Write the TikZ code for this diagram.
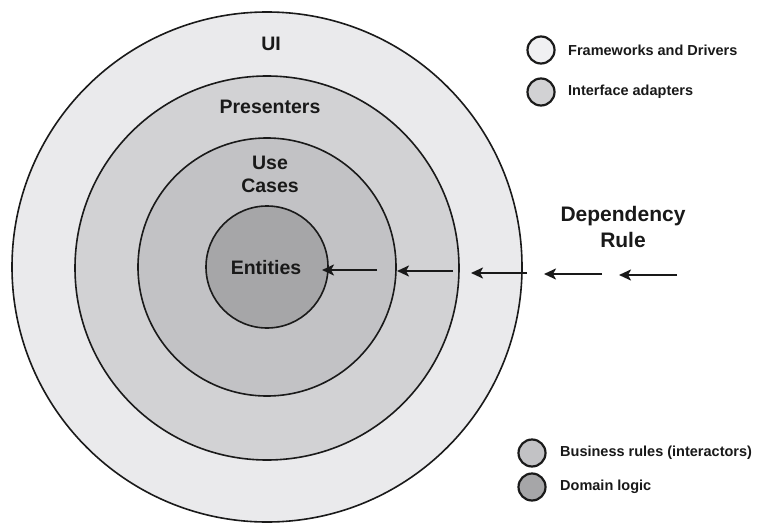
\documentclass[tikz,border=0pt]{standalone}
\usepackage{fontspec}
\setmainfont{Liberation Sans}
\usetikzlibrary{arrows.meta}
\definecolor{cOuter}{HTML}{EAEAEC}
\definecolor{cPres}{HTML}{D2D2D4}
\definecolor{cUse}{HTML}{C2C2C5}
\definecolor{cEnt}{HTML}{A6A6A8}
\definecolor{cLine}{HTML}{1A1A1A}
\tikzset{
  ring/.style={circle, draw=cLine, line width=1.6pt, inner sep=0pt},
  ringlabel/.style={font=\fontsize{19.5}{23}\selectfont\bfseries, text=black!90, align=center},
  legcircle/.style={circle, draw=cLine, line width=2.2pt, inner sep=0pt, minimum size=27pt},
  legtext/.style={anchor=west, font=\fontsize{14.5}{16}\selectfont\bfseries, text=black!90, inner sep=0pt},
  deparrow/.style={line width=2.6pt, draw=black!90, -{Stealth[length=12pt,width=11pt,inset=3pt]}},
}
\begin{document}
\begin{tikzpicture}[x=1pt,y=-1pt]
\useasboundingbox (0,0) rectangle (768,524);
\fill[white] (0,0) rectangle (768,524);
% rings
\node[ring, fill=cOuter, minimum size=510pt] (ui) at (267,267) {};
\node[ring, fill=cPres, minimum size=384pt] (pres) at (267,268) {};
\node[ring, fill=cUse, minimum size=258pt] (use) at (267,267) {};
\node[ring, fill=cEnt, minimum size=122pt] (ent) at (267,267) {};
% labels
\node[ringlabel] (uil) at (271,44) {UI};
\node[ringlabel] (presl) at (270,107) {Presenters};
\node[ringlabel] (usel) at (270,174) {Use\\Cases};
\node[ringlabel] (entl) at (266,268) {Entities};
% dependency rule
\node[font=\fontsize{21}{26}\selectfont\bfseries, text=black!90, align=center] (dep) at (623,227) {Dependency\\Rule};
% arrows
\coordinate (t1) at (377,270); \coordinate (h1) at (322,270);
\coordinate (t2) at (453,271); \coordinate (h2) at (397,271);
\coordinate (t3) at (527,273); \coordinate (h3) at (471,273);
\coordinate (t4) at (602,274); \coordinate (h4) at (544,274);
\coordinate (t5) at (677,275); \coordinate (h5) at (619,275);
\draw[deparrow] (t1) -- (h1);
\draw[deparrow] (t2) -- (h2);
\draw[deparrow] (t3) -- (h3);
\draw[deparrow] (t4) -- (h4);
\draw[deparrow] (t5) -- (h5);
% legend
\node[legcircle, fill=cOuter!70!white] (lg1) at (541,50) {};
\node[legtext] (lt1) at (568,50) {Frameworks and Drivers};
\node[legcircle, fill=cPres] (lg2) at (541,92) {};
\node[legtext] (lt2) at (568,92) {Interface adapters};
\node[legcircle, fill=cUse] (lg3) at (532,453) {};
\node[legtext] (lt3) at (560,453) {Business rules (interactors)};
\node[legcircle, fill=cEnt] (lg4) at (532,487) {};
\node[legtext] (lt4) at (560,487) {Domain logic};
\end{tikzpicture}
\end{document}
